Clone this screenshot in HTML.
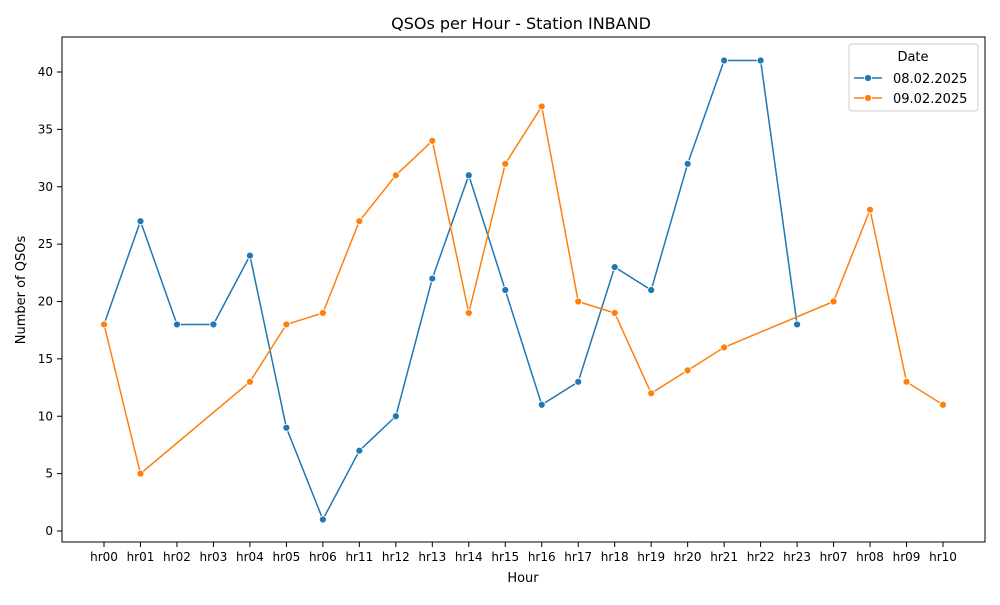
<!DOCTYPE html>
<html><head><meta charset="utf-8"><style>
body{margin:0;background:#fff;font-family:"Liberation Sans","DejaVu Sans",sans-serif}
svg text{font-family:"DejaVu Sans","Liberation Sans",sans-serif;fill:#000}
</style></head><body>
<svg id="c" width="1000" height="600" viewBox="0 0 1000 600">
<rect width="1000" height="600" fill="#fff"/>
<text x="521" y="29" font-size="16" text-anchor="middle">QSOs per Hour - Station INBAND</text>
<g id="axes"></g>
<g id="series"></g>
<rect x="62" y="37" width="923" height="505" fill="none" stroke="#000" stroke-width="1"/>
<text x="523" y="582" font-size="13" text-anchor="middle">Hour</text>
<text x="25" y="290" font-size="13" text-anchor="middle" transform="rotate(-90 25 290)">Number of QSOs</text>
<g>
<rect x="849" y="44" width="129" height="67" rx="3" fill="#fff" fill-opacity="0.8" stroke="#ccc"/>
<text x="913" y="61" font-size="13" text-anchor="middle">Date</text>
<g><line x1="854" y1="78" x2="882" y2="78" stroke="#1f77b4" stroke-width="1.5"/><circle cx="868" cy="78" r="3.5" fill="#1f77b4" stroke="#fff" stroke-width="0.8"/><text x="893" y="83" font-size="13">08.02.2025</text></g>
<g><line x1="854" y1="98" x2="882" y2="98" stroke="#ff7f0e" stroke-width="1.5"/><circle cx="868" cy="98" r="3.5" fill="#ff7f0e" stroke="#fff" stroke-width="0.8"/><text x="893" y="103" font-size="13">09.02.2025</text></g>
</g>
</svg>
<script>
const categories=["hr00","hr01","hr02","hr03","hr04","hr05","hr06","hr11","hr12","hr13","hr14","hr15","hr16","hr17","hr18","hr19","hr20","hr21","hr22","hr23","hr07","hr08","hr09","hr10"];
const yTicks=[0,5,10,15,20,25,30,35,40];
const s1Cats=["hr00","hr01","hr02","hr03","hr04","hr05","hr06","hr11","hr12","hr13","hr14","hr15","hr16","hr17","hr18","hr19","hr20","hr21","hr22","hr23"];
const s1Vals=[18,27,18,18,24,9,1,7,10,22,31,21,11,13,23,21,32,41,41,18];
const s2Cats=["hr00","hr01","hr04","hr05","hr06","hr11","hr12","hr13","hr14","hr15","hr16","hr17","hr18","hr19","hr20","hr21","hr07","hr08","hr09","hr10"];
const s2Vals=[18,5,13,18,19,27,31,34,19,32,37,20,19,12,14,16,20,28,13,11];
const NS="http://www.w3.org/2000/svg";
function x(c){return 104+categories.indexOf(c)*(943-104)/(categories.length-1);}
function y(v){return 531-v*(531-72)/40;}
const axes=document.getElementById('axes'),ser=document.getElementById('series');
function mk(tag,attrs,parent){const e=document.createElementNS(NS,tag);for(const k in attrs)e.setAttribute(k,attrs[k]);parent.appendChild(e);return e;}
categories.forEach(c=>{
 mk('line',{x1:x(c),x2:x(c),y1:542,y2:547,stroke:'#000'},axes);
 const t=mk('text',{x:x(c),y:561,'font-size':12,'text-anchor':'middle'},axes);
 
 
 t.textContent=c;
});
yTicks.forEach(v=>{
 mk('line',{x1:57,x2:62,y1:y(v),y2:y(v),stroke:'#000'},axes);
 const t=mk('text',{x:53,y:y(v)+4,'font-size':12,'text-anchor':'end'},axes);
 
 
 t.textContent=v;
});
function draw(cats,vals,color,name){
 const pl=mk('polyline',{points:cats.map((c,i)=>x(c)+','+y(vals[i])).join(' '),fill:'none',stroke:color,'stroke-width':1.5},ser);
 
 
 cats.forEach((c,i)=>{
  const p=mk('circle',{cx:x(c),cy:y(vals[i]),r:3.5,fill:color,stroke:'#fff','stroke-width':0.8},ser);
  
  
 });
}
draw(s1Cats,s1Vals,'#1f77b4','series-08-02-2025');
draw(s2Cats,s2Vals,'#ff7f0e','series-09-02-2025');
</script>
</body></html>
